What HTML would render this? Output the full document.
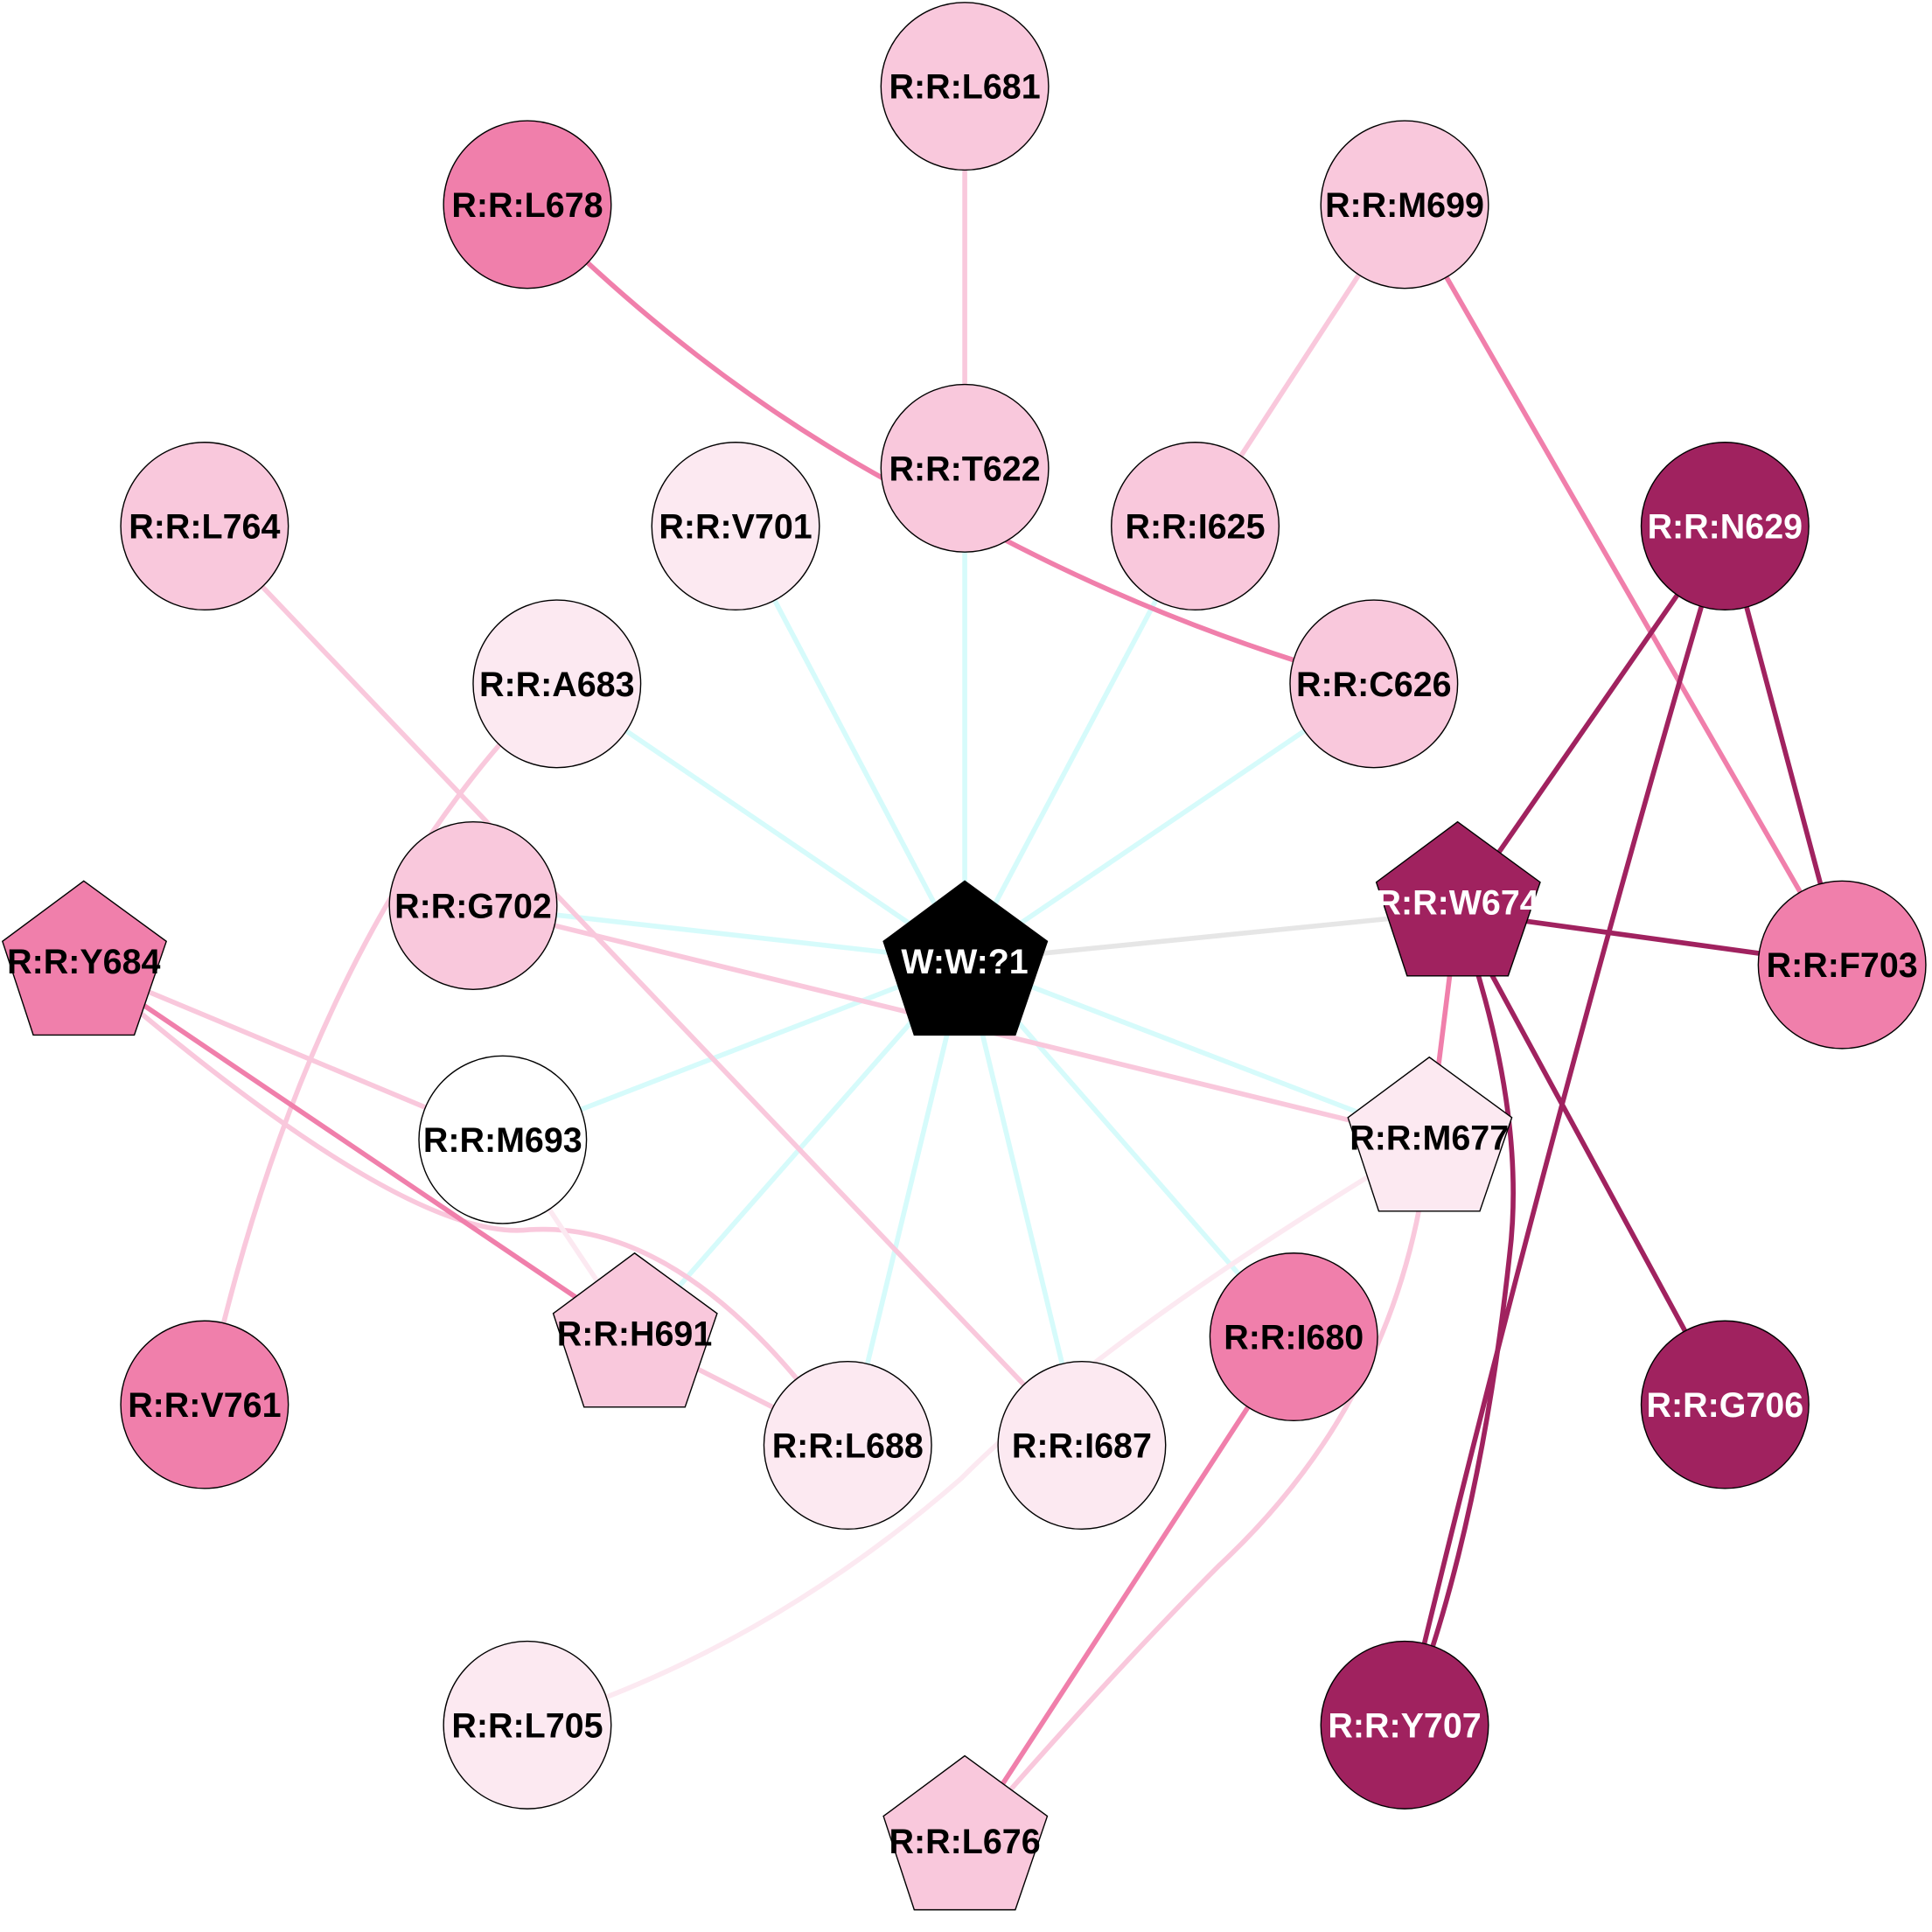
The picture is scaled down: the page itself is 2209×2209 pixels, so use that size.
<!DOCTYPE html>
<html><head><meta charset="utf-8"><style>html,body{margin:0;padding:0;background:#fff}svg{display:block}</style></head><body>
<svg width="2209" height="2209" viewBox="0 0 1568 1568" xmlns="http://www.w3.org/2000/svg" font-family="Liberation Sans, Arial, sans-serif" font-weight="bold" font-size="28">
<g fill="none" stroke-width="4">
<g stroke="#d6fbfb">
<line x1="783" y1="780" x2="783" y2="380"/>
<line x1="783" y1="780" x2="597" y2="427"/>
<line x1="783" y1="780" x2="452" y2="555"/>
<line x1="783" y1="780" x2="1115" y2="555"/>
<line x1="783" y1="780" x2="970" y2="427"/>
<line x1="783" y1="780" x2="384" y2="735"/>
<line x1="783" y1="780" x2="408" y2="925"/>
<line x1="783" y1="780" x2="515" y2="1085"/>
<line x1="783" y1="780" x2="688" y2="1173"/>
<line x1="783" y1="780" x2="878" y2="1173"/>
<line x1="783" y1="780" x2="1050" y2="1085"/>
<line x1="783" y1="780" x2="1160" y2="925"/>
</g>
<line x1="783" y1="780" x2="1183" y2="740" stroke="#e6e6e6"/>
<g stroke="#f9c8dc">
<line x1="783" y1="70" x2="783" y2="380"/>
<line x1="1140" y1="166" x2="970" y2="427"/>
<line x1="166" y1="427" x2="878" y2="1173"/>
<path d="M452 555 Q250 750 166 1140"/>
<line x1="384" y1="735" x2="1160" y2="925"/>
<line x1="68" y1="783" x2="408" y2="925"/>
<path d="M68 783 Q330 1010 430 998 Q560 990 688 1173"/>
<line x1="515" y1="1085" x2="688" y2="1173"/>
<path d="M1160 925 Q1140 1130 990 1270 Q900 1360 783 1495"/>
</g>
<path d="M1160 925 Q900 1080 780 1200 Q620 1340 428 1400" stroke="#fce9f1"/>
<line x1="408" y1="925" x2="515" y2="1085" stroke="#fce9f1"/>
<g stroke="#f07fab">
<path d="M428 166 Q600 340 800 430 Q950 510 1115 555"/>
<line x1="1140" y1="166" x2="1495" y2="783"/>
<line x1="68" y1="783" x2="515" y2="1085"/>
<line x1="1183" y1="740" x2="1160" y2="925"/>
<line x1="1050" y1="1085" x2="783" y2="1495"/>
</g>
<g stroke="#a0225f">
<line x1="1400" y1="427" x2="1183" y2="740"/>
<line x1="1400" y1="427" x2="1495" y2="783"/>
<path d="M1400 427 Q1260 900 1140 1400"/>
<line x1="1183" y1="740" x2="1495" y2="783"/>
<line x1="1183" y1="740" x2="1400" y2="1140"/>
<path d="M1183 740 Q1240 900 1225 1020 Q1200 1250 1140 1400"/>
</g>
</g>
<g stroke="#000" stroke-width="1">
<circle cx="783" cy="70" r="68" fill="#f9c8dc"/>
<circle cx="428" cy="166" r="68" fill="#f07fab"/>
<circle cx="1140" cy="166" r="68" fill="#f9c8dc"/>
<circle cx="783" cy="380" r="68" fill="#f9c8dc"/>
<circle cx="970" cy="427" r="68" fill="#f9c8dc"/>
<circle cx="597" cy="427" r="68" fill="#fce9f1"/>
<circle cx="166" cy="427" r="68" fill="#f9c8dc"/>
<circle cx="1400" cy="427" r="68" fill="#a0225f"/>
<circle cx="1115" cy="555" r="68" fill="#f9c8dc"/>
<circle cx="452" cy="555" r="68" fill="#fce9f1"/>
<circle cx="384" cy="735" r="68" fill="#f9c8dc"/>
<circle cx="1495" cy="783" r="68" fill="#f07fab"/>
<circle cx="408" cy="925" r="68" fill="#ffffff"/>
<circle cx="1050" cy="1085" r="68" fill="#f07fab"/>
<circle cx="166" cy="1140" r="68" fill="#f07fab"/>
<circle cx="688" cy="1173" r="68" fill="#fce9f1"/>
<circle cx="878" cy="1173" r="68" fill="#fce9f1"/>
<circle cx="1400" cy="1140" r="68" fill="#a0225f"/>
<circle cx="428" cy="1400" r="68" fill="#fce9f1"/>
<circle cx="1140" cy="1400" r="68" fill="#a0225f"/>
<polygon points="783,715 850,764 824,840 742,840 717,764" fill="#000"/>
<polygon points="1183,667 1250,716 1224,792 1142,792 1117,716" fill="#a0225f"/>
<polygon points="1160,858 1227,907 1201,983 1119,983 1094,907" fill="#fce9f1"/>
<polygon points="68,715 135,764 109,840 27,840 2,764" fill="#f07fab"/>
<polygon points="515,1017 582,1066 556,1142 474,1142 449,1066" fill="#f9c8dc"/>
<polygon points="783,1425 850,1474 824,1550 742,1550 717,1474" fill="#f9c8dc"/>
</g>
<g text-anchor="middle" fill="#000">
<text x="783" y="80">R:R:L681</text>
<text x="428" y="176">R:R:L678</text>
<text x="1140" y="176">R:R:M699</text>
<text x="783" y="390">R:R:T622</text>
<text x="970" y="437">R:R:I625</text>
<text x="597" y="437">R:R:V701</text>
<text x="166" y="437">R:R:L764</text>
<text x="1400" y="437" fill="#fff">R:R:N629</text>
<text x="1115" y="565">R:R:C626</text>
<text x="452" y="565">R:R:A683</text>
<text x="384" y="745">R:R:G702</text>
<text x="1495" y="793">R:R:F703</text>
<text x="408" y="935">R:R:M693</text>
<text x="1050" y="1095">R:R:I680</text>
<text x="166" y="1150">R:R:V761</text>
<text x="688" y="1183">R:R:L688</text>
<text x="878" y="1183">R:R:I687</text>
<text x="1400" y="1150" fill="#fff">R:R:G706</text>
<text x="428" y="1410">R:R:L705</text>
<text x="1140" y="1410" fill="#fff">R:R:Y707</text>
<text x="783" y="790" fill="#fff">W:W:?1</text>
<text x="1183" y="742" fill="#fff">R:R:W674</text>
<text x="1160" y="933">R:R:M677</text>
<text x="68" y="790">R:R:Y684</text>
<text x="515" y="1092">R:R:H691</text>
<text x="783" y="1504">R:R:L676</text>
</g>
</svg>
</body></html>
